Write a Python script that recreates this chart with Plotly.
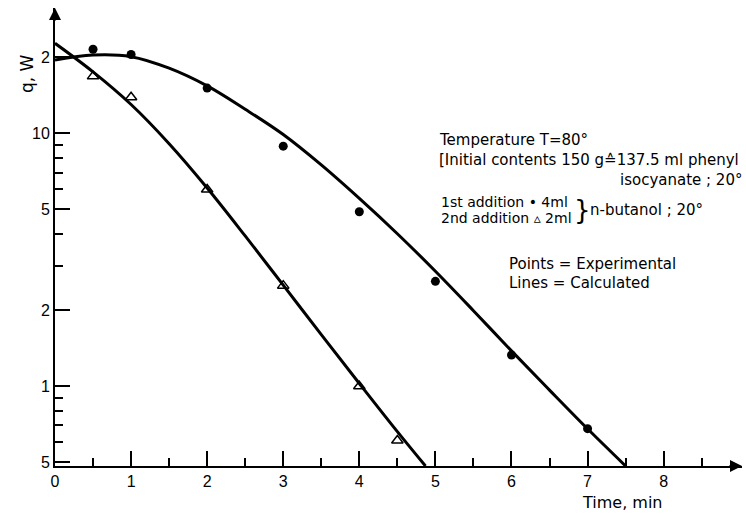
import plotly.graph_objects as go
import math

# Experimental points
t_exp1 = [0.5, 1, 2, 3, 4, 5, 6, 7]
q_exp1 = [21.5, 20.5, 15.1, 8.9, 4.9, 2.6, 1.33, 0.68]
t_exp2 = [0.5, 1, 2, 3, 4, 4.5]
q_exp2 = [16.8, 13.9, 6.0, 2.5, 1.0, 0.61]

# Calculated curves
t_calc1 = [0, 0.5, 1, 1.5, 2, 2.5, 3, 3.5, 4, 4.5, 5, 5.5, 6, 6.5, 7, 7.5]
q_calc1 = [19.5, 20.4, 20.1, 18.1, 15.4, 12.45, 9.89, 7.5, 5.53, 4.01, 2.85, 1.99, 1.38, 0.966, 0.679, 0.484]
t_calc2 = [0, 0.5, 1, 1.5, 2, 2.5, 3, 3.5, 4, 4.5, 4.87]
q_calc2 = [22.7, 17.5, 13.0, 9.1, 6.08, 3.93, 2.51, 1.6, 1.026, 0.662, 0.484]

x_ticks = [0, 1, 2, 3, 4, 5, 6, 7, 8]
x_minor = [0.5, 1.5, 2.5, 3.5, 4.5, 5.5, 6.5, 7.5, 8.5]
y_ticks = [0.5, 1, 2, 5, 10, 20]
y_ticktext = ["5", "1", "2", "5", "10", "2"]
y_minor = [0.6, 0.7, 0.8, 0.9, 3, 4, 6, 7, 8, 9]

FONT = "Liberation Sans, DejaVu Sans, sans-serif"
TFONT = "DejaVu Sans, sans-serif"

fig = go.Figure()
fig.add_trace(go.Scatter(x=t_calc1, y=q_calc1, mode="lines", line=dict(color="black", width=3, shape="spline", smoothing=1), showlegend=False))
fig.add_trace(go.Scatter(x=t_calc2, y=q_calc2, mode="lines", line=dict(color="black", width=3, shape="spline", smoothing=1), showlegend=False))
fig.add_trace(go.Scatter(x=t_exp1, y=q_exp1, mode="markers", marker=dict(symbol="circle", size=9, color="black"), showlegend=False))
fig.add_trace(go.Scatter(x=t_exp2, y=q_exp2, mode="markers",
                         marker=dict(symbol="triangle-up-open", size=10, color="black", line=dict(width=1.5)), showlegend=False))

fig.update_xaxes(range=[0, 9.03], showline=True, linecolor="black", linewidth=2,
                 ticks="inside", ticklen=15, tickwidth=1.5, tickcolor="black",
                 tickvals=x_ticks, ticktext=[str(v) for v in x_ticks],
                 minor=dict(tickvals=x_minor, ticks="inside", ticklen=8, tickwidth=1.5, tickcolor="black"),
                 showgrid=False, zeroline=False, tickfont=dict(size=16, color="black", family=FONT))
fig.update_yaxes(type="log", range=[math.log10(0.484), math.log10(31.3)], showline=True, linecolor="black", linewidth=2,
                 ticks="inside", ticklen=15, tickwidth=1.5, tickcolor="black",
                 tickvals=y_ticks, ticktext=y_ticktext,
                 minor=dict(tickvals=y_minor, ticks="inside", ticklen=8, tickwidth=1.5, tickcolor="black"),
                 showgrid=False, zeroline=False, tickfont=dict(size=16, color="black", family=FONT))

ann = []
# axis arrows
ann.append(dict(x=1, y=0, xref="paper", yref="paper", ax=-14, ay=0, showarrow=True, arrowhead=2,
                arrowsize=1.2, arrowwidth=2, arrowcolor="black", text=""))
ann.append(dict(x=0, y=1, xref="paper", yref="paper", ax=0, ay=14, showarrow=True, arrowhead=2,
                arrowsize=1.2, arrowwidth=2, arrowcolor="black", text=""))
def txt(x, y, s, size=15, xanchor="left", angle=0, family=TFONT):
    ann.append(dict(x=x, y=y, xref="paper", yref="paper", text=s, showarrow=False, xanchor=xanchor,
                    yanchor="middle", textangle=angle, font=dict(size=size, color="black", family=family)))

W, H = 746, 516
L, T, B = 55, 8, 50
pw, ph = W - L - 4, H - T - B
def px(xp): return (xp - L) / pw
def py(yp): return (H - B - yp) / ph

txt(px(15), py(74), "q, W", size=17, angle=-90)
txt(px(622), py(503), "Time, min", size=16, xanchor="center")
txt(px(437), py(140), "Temperature T=80°")
txt(px(437), py(160), "[Initial contents 150 g≙137.5 ml phenyl")
txt(px(744), py(180), "isocyanate ; 20°", xanchor="right")
txt(px(439), py(202), "1st addition • 4ml", size=14)
txt(px(439), py(218), "2nd addition ▵ 2ml", size=14)
txt(px(572), py(210), "}", size=26)
txt(px(588), py(210), "n-butanol ; 20°")
txt(px(507), py(264), "Points = Experimental")
txt(px(507), py(283), "Lines = Calculated")

fig.update_layout(width=W, height=H, margin=dict(l=L, r=4, t=T, b=B),
                  plot_bgcolor="white", paper_bgcolor="white", annotations=ann,
                  font=dict(family=FONT, color="black"))
fig.write_html("out.html")
